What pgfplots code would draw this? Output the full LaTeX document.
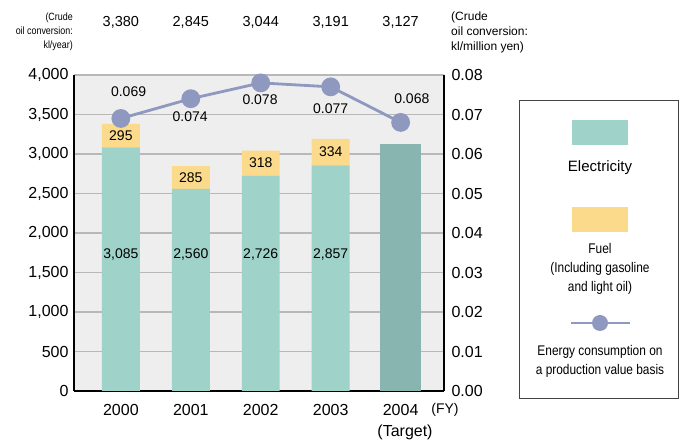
\documentclass[border=0pt]{standalone}
\usepackage{fontspec}
\setmainfont{Liberation Sans}
\newfontfamily\cond{Liberation Sans}[FakeStretch=0.85]
\usepackage{pgfplots}
\pgfplotsset{compat=1.18}
\definecolor{elec}{HTML}{9FD3C9}
\definecolor{elect}{HTML}{88B5AF}
\definecolor{fuel}{HTML}{FBDB8B}
\definecolor{linec}{HTML}{8F98BF}
\definecolor{bgc}{HTML}{EEEEEE}
\definecolor{gridc}{HTML}{B8B8B8}
\definecolor{legc}{HTML}{444444}
\newcommand\fs[2]{\fontsize{#1}{#2}\selectfont}
\begin{document}
\begin{tikzpicture}[x=1pt,y=1pt]
\useasboundingbox (0,0) rectangle (680,441);
\begin{axis}[at={(74pt,50pt)}, anchor=south west, scale only axis,
  width=370pt, height=316pt,
  xmin=-0.67, xmax=4.62, ymin=0, ymax=4000, enlargelimits=false,
  ybar stacked,
  axis x line*=bottom, axis y line*=left,
  axis line style={-, line width=1.8pt, black},
  xtick={0,1,2,3,4}, xticklabels={2000,2001,2002,2003,2004},
  ytick={0,500,1000,1500,2000,2500,3000,3500,4000},
  scaled y ticks=false,
  major tick length=0pt,
  ymajorgrids, grid style={draw=gridc, line width=1.1pt},
  axis background/.style={fill=bgc},
  tick label style={font=\fs{16}{16}},
  xticklabel style={yshift=-10pt},
  yticklabel style={xshift=-2pt},
  /pgf/number format/assume math mode=true,
  yticklabel style={/pgf/number format/fixed, /pgf/number format/1000 sep={,}},
  clip=false,
]
\addplot[fill=elec, draw=none, bar width=0.543] coordinates {(0,3085) (1,2560) (2,2726) (3,2857) (4,0)};
\addplot[fill=fuel, draw=none, bar width=0.543] coordinates {(0,295) (1,285) (2,318) (3,334) (4,0)};
\addplot[fill=elect, draw=none, bar width=0.586] coordinates {(0,0) (1,0) (2,0) (3,0) (4,3127)};
% totals above the chart
\node[font=\fs{14.5}{14.5}, inner sep=0pt] at (axis cs:0,4671) {3,380};
\node[font=\fs{14.5}{14.5}, inner sep=0pt] at (axis cs:1,4671) {2,845};
\node[font=\fs{14.5}{14.5}, inner sep=0pt] at (axis cs:2,4671) {3,044};
\node[font=\fs{14.5}{14.5}, inner sep=0pt] at (axis cs:3,4671) {3,191};
\node[font=\fs{14.5}{14.5}, inner sep=0pt] at (axis cs:4,4671) {3,127};
\end{axis}
\begin{axis}[at={(74pt,50pt)}, anchor=south west, scale only axis,
  width=370pt, height=316pt,
  xmin=-0.67, xmax=4.62, ymin=0, ymax=0.08, enlargelimits=false,
  axis x line=none, axis y line*=right,
  axis line style={-, line width=1.8pt, black},
  ytick={0,0.01,0.02,0.03,0.04,0.05,0.06,0.07,0.08},
  scaled y ticks=false,
  major tick length=0pt,
  tick label style={font=\fs{16}{16}},
  yticklabel style={xshift=4pt},
  /pgf/number format/assume math mode=true,
  yticklabel style={/pgf/number format/fixed, /pgf/number format/precision=2, /pgf/number format/fixed zerofill},
  clip=false,
]
% bar value labels (positions in this axis: kl/50000)
\node[font=\fs{14}{14}, inner sep=0pt] at (axis cs:0,0.03468) {3,085};
\node[font=\fs{14}{14}, inner sep=0pt] at (axis cs:1,0.03468) {2,560};
\node[font=\fs{14}{14}, inner sep=0pt] at (axis cs:2,0.03468) {2,726};
\node[font=\fs{14}{14}, inner sep=0pt] at (axis cs:3,0.03468) {2,857};
\node[font=\fs{14}{14}, inner sep=0pt] at (axis cs:0,0.06464) {295};
\node[font=\fs{14}{14}, inner sep=0pt] at (axis cs:1,0.05404) {285};
\node[font=\fs{14}{14}, inner sep=0pt] at (axis cs:2,0.0577) {318};
\node[font=\fs{14}{14}, inner sep=0pt] at (axis cs:3,0.06048) {334};
\addplot[color=linec, line width=2.8pt, mark=*, mark size=8pt, mark options={fill=linec, draw=none}]
  coordinates {(0,0.069) (1,0.074) (2,0.078) (3,0.077) (4,0.068)};
\node[font=\fs{14}{14}, inner sep=0pt] at (axis cs:0.11,0.0757) {0.069};
\node[font=\fs{14}{14}, inner sep=0pt] at (axis cs:0.99,0.0694) {0.074};
\node[font=\fs{14}{14}, inner sep=0pt] at (axis cs:1.99,0.0737) {0.078};
\node[font=\fs{14}{14}, inner sep=0pt] at (axis cs:3.0,0.0716) {0.077};
\node[font=\fs{14}{14}, inner sep=0pt] at (axis cs:4.16,0.0739) {0.068};
\end{axis}
% axis headers
\node[font=\cond\fs{10.5}{14}, align=right, anchor=east, inner sep=0pt] at (73,409) {(Crude\\oil conversion:\\kl/year)};
\node[font=\fs{12}{15}, align=left, anchor=west, inner sep=0pt] at (451,409) {(Crude\\oil conversion:\\kl/million yen)};
\node[font=\fs{14}{14}, inner sep=0pt] at (445,31) {(FY)};
\node[font=\fs{16}{16}, inner sep=0pt] at (405,9) {(Target)};
% legend
\draw[draw=legc, line width=0.8pt] (519.5,43) rectangle (678,341);
\fill[elec] (572,296) rectangle (628,321);
\node[font=\fs{15}{18}, inner sep=0pt] at (600,273) {Electricity};
\fill[fuel] (572,209) rectangle (628,234);
\node[font=\cond\fs{14}{19}, align=center, inner sep=0pt] at (600,172) {Fuel\\(Including gasoline\\and light oil)};
\draw[linec, line width=2.5pt] (571,118) -- (630,118);
\fill[linec] (600,118) circle (8);
\node[font=\cond\fs{14}{19}, align=center, inner sep=0pt] at (600,80) {Energy consumption on\\a production value basis};
\end{tikzpicture}
\end{document}
